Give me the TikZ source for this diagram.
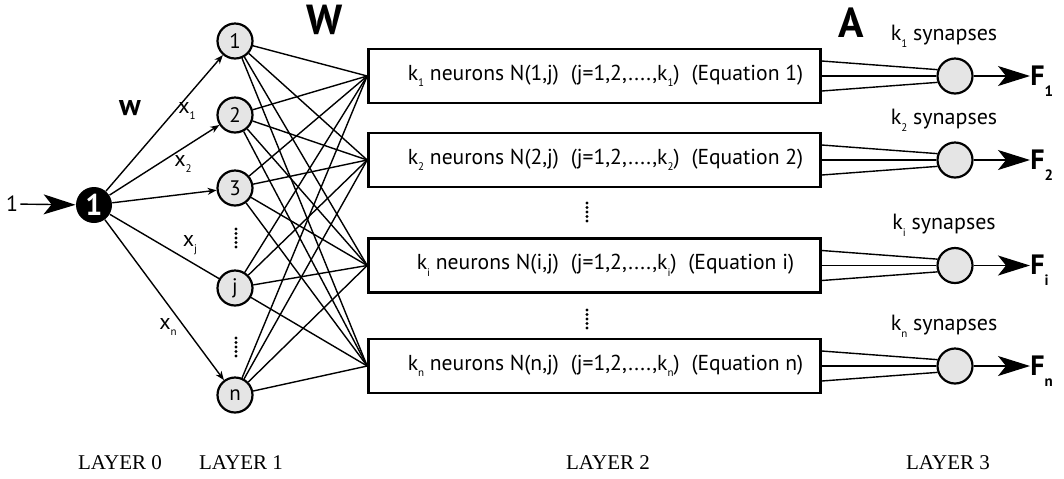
\documentclass[tikz,border=0pt]{standalone}
\usepackage{fontspec}
\setmainfont{PT Sans}
\newfontfamily\layerfont{Liberation Serif}
\usetikzlibrary{arrows.meta}
% small low index as in k_1, x_j
\newcommand{\lowsub}[1]{\raisebox{-0.6ex}{\fontsize{5.5}{5.5}\selectfont #1}}
\newcommand{\boldsub}[1]{\raisebox{-0.8ex}{\fontsize{7.5}{7.5}\selectfont\bfseries #1}}

\begin{document}
\begin{tikzpicture}[x=0.5pt,y=-0.5pt,
    wire/.style={line width=0.7pt},
    smallarrow/.style={line width=0.7pt,-{Stealth[length=4.5pt,width=3.5pt]}},
    bigarrow/.style={line width=0.7pt,-{Stealth[length=16pt,width=10pt,inset=4pt]}},
    unit/.style={circle,draw,line width=1.1pt,fill=black!10,minimum size=17.5pt,inner sep=0pt,font=\fontsize{10.5}{10.5}\selectfont},
    synapse/.style={circle,draw,line width=1.1pt,fill=black!10,minimum size=17.5pt,inner sep=0pt},
    eqbox/.style={draw,line width=1.3pt,minimum width=226pt,minimum height=27pt,inner sep=0pt,font=\fontsize{10.8}{10.8}\selectfont},
    vdots/.style={line width=1.7pt,line cap=round,dash pattern=on 0pt off 2.25pt},
    smalltext/.style={font=\fontsize{11}{11}\selectfont},
    layerlabel/.style={font=\layerfont\fontsize{10.5}{10.5}\selectfont},
    bigletter/.style={font=\fontsize{21}{21}\selectfont\bfseries},
    outlabel/.style={anchor=west,inner sep=0pt,font=\fontsize{14}{14}\selectfont\bfseries}]
    \useasboundingbox (0,0) rectangle (1064,478);

    % layer 0
    \node[smalltext,inner sep=1pt] (one) at (12,204) {1};
    \node[circle,fill=black,minimum size=18pt,inner sep=0pt,text=white,font=\fontsize{15}{15}\selectfont\bfseries] (n0) at (94,205) {1};
    \draw[bigarrow] (one) -- (n0);

    % layer 1
    \node[unit] (u1) at (235,41) {1};
    \node[unit] (u2) at (235,115) {2};
    \node[unit] (u3) at (235,188) {3};
    \node[unit] (uj) at (235,288) {j};
    \node[unit] (un) at (235,395) {n};
    \draw[vdots] (236,229) -- (236,247);
    \draw[vdots] (236,338) -- (236,356);

    \draw[smallarrow] (n0) -- (u1);
    \draw[smallarrow] (n0) -- (u2);
    \draw[smallarrow] (n0) -- (u3);
    \draw[wire] (n0) -- (uj);
    \draw[smallarrow] (n0) -- (un);

    \node[font=\fontsize{15}{15}\selectfont\bfseries] (w) at (130,108) {w};
    \node[smalltext] (x1) at (187,111) {x\lowsub{1}};
    \node[smalltext] (x2) at (183,164) {x\lowsub{2}};
    \node[smalltext] (xj) at (190,245) {x\lowsub{j}};
    \node[smalltext] (xn) at (168,327) {x\lowsub{n}};

    % layer 2
    \node[bigletter] (wbig) at (325,20) {W};
    \node[eqbox] (eq1) at (594.5,76) {\hspace*{11pt}k\lowsub{1} neurons N(1,j)\hspace{0.55em}(j=1,2,....,k\lowsub{1})\hspace{0.55em}(Equation 1)};
    \node[eqbox] (eq2) at (594.5,160) {\hspace*{11pt}k\lowsub{2} neurons N(2,j)\hspace{0.55em}(j=1,2,....,k\lowsub{2})\hspace{0.55em}(Equation 2)};
    \node[eqbox] (eqi) at (594.5,265.5) {\hspace*{11pt}k\lowsub{i} neurons N(i,j)\hspace{0.55em}(j=1,2,....,k\lowsub{i})\hspace{0.55em}(Equation i)};
    \node[eqbox] (eqn) at (594.5,366) {\hspace*{11pt}k\lowsub{n} neurons N(n,j)\hspace{0.55em}(j=1,2,....,k\lowsub{n})\hspace{0.55em}(Equation n)};
    \draw[vdots] (587,203) -- (587,221);
    \draw[vdots] (587,310) -- (587,328);

    \foreach \a in {u1,u2,u3,uj,un}
      \foreach \b in {eq1,eq2,eqi,eqn}
        \draw[wire] (\a) -- (\b.west);

    % layer 3
    \node[bigletter] (abig) at (851,23) {A};
    \foreach \k/\y in {1/76,2/160,i/265.5,n/366} {
      \node[synapse] (syn\k) at (955,\y) {};
      \node[smalltext] (lab\k) at (944,\y-40) {k\lowsub{\k} synapses};
      \node[outlabel] (f\k) at (1030,\y+5) {F\boldsub{\k}};
      \draw[wire] ([yshift=7.5pt]eq\k.east) -- (syn\k.160);
      \draw[wire] (eq\k.east) -- (syn\k.west);
      \draw[wire] ([yshift=-7.5pt]eq\k.east) -- (syn\k.200);
      \draw[bigarrow] (syn\k) -- (syn\k -| f\k.west);
    }

    % layer names
    \node[layerlabel] (lay0) at (120,463) {LAYER 0};
    \node[layerlabel] (lay1) at (241,463) {LAYER 1};
    \node[layerlabel] (lay2) at (608,463) {LAYER 2};
    \node[layerlabel] (lay3) at (948,463) {LAYER 3};
\end{tikzpicture}
\end{document}
